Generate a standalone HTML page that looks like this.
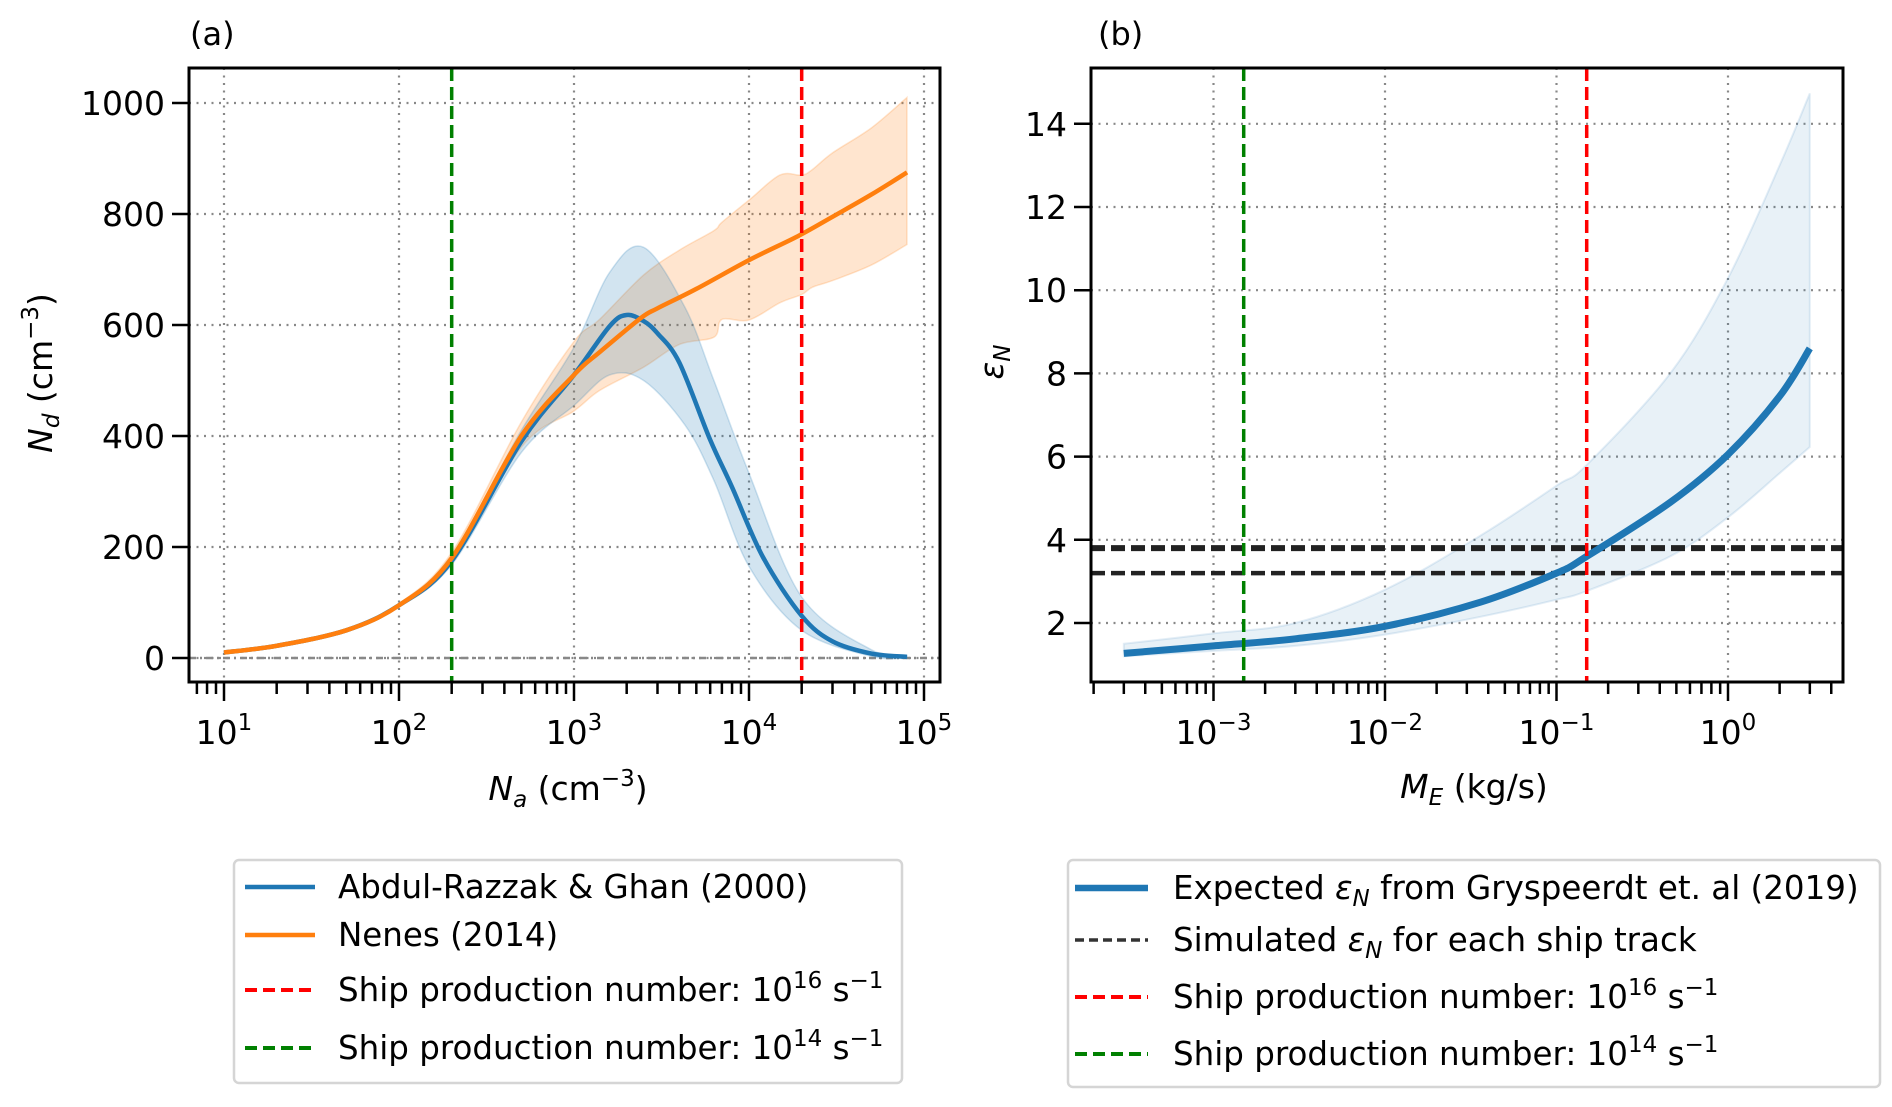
<!DOCTYPE html>
<html><head><meta charset="utf-8"><style>
html,body{margin:0;padding:0;background:#fff;}
svg{display:block;font-family:"DejaVu Sans","Liberation Sans",sans-serif;}
</style></head><body>
<svg id="fig" width="1892" height="1107" viewBox="0 0 1892 1107" xmlns="http://www.w3.org/2000/svg"></svg>
<script>
// ---- Panel (a) data ----
const aBlueX = [10,20,50,100,200,500,1000,1600,2000,2500,3000,4000,6000,8000,12000,20000,30000,50000,80000];
const aBlueY = [10,22,50,95,175,390,510,598,618,607,585,532,393,308,182,76,30,8,2];
const aBlueBandX = [10,20,50,100,200,500,1000,1600,2500,4300,6300,10000,20000,50000,80000];
const aBlueUp = [11,23,52,98,185,410,560,695,740,632,500,333,110,15,3];
const aBlueLo = [9,21,48,92,168,370,455,510,500,420,320,165,50,3,0];
const aOrX = [10,20,50,100,200,500,1000,1400,2400,3000,5000,10000,19000,30000,50000,80000];
const aOrY = [10,22,50,95,180,400,510,551,612,630,665,717,760,795,835,875];
const aOrBandX = [10,20,50,100,200,500,1000,1400,2500,4000,6300,7000,10000,15000,20000,23000,30000,50000,80000];
const aOrUp = [11,23,52,98,190,425,570,610,690,735,770,785,825,870,870,880,910,955,1010];
const aOrLo = [9,21,48,92,170,380,445,482,524,565,578,610,609,640,655,668,680,708,745];
const aVlines = [200,20000];
const aYTicks = [0,200,400,600,800,1000];
const aXTickExp = [1,2,3,4,5];
// ---- Panel (b) data ----
const bX = [0.0003,0.001,0.003,0.01,0.036,0.1,0.15,0.46,1,2,3];
const bY = [1.27,1.45,1.62,1.92,2.5,3.2,3.6,4.9,6.05,7.45,8.6];
const bUp = [1.5,1.75,2.0,2.8,4.1,5.3,5.8,8.0,10.29,13.0,14.73];
const bLo = [1.2,1.33,1.45,1.72,2.15,2.56,2.77,3.6,4.54,5.6,6.23];
const bHlines = [3.8,3.2];
const bVlines = [0.0015,0.15];
const bYTicks = [2,4,6,8,10,12,14];
const bXTickExp = [-3,-2,-1,0];

const NS="http://www.w3.org/2000/svg";
const svg=document.getElementById('fig');
function el(tag,attrs,parent){const e=document.createElementNS(NS,tag);for(const k in attrs)e.setAttribute(k,attrs[k]);(parent||svg).appendChild(e);return e;}

const A={left:189,right:940,top:68,bottom:682};
const axA=v=>224+175*Math.log10(v/10);
const ayA=v=>658-0.555*v;
const B={left:1091,right:1843,top:68,bottom:682};
const axB=v=>1728+171.5*Math.log10(v);
const ayB=v=>623-41.6*(v-2);

function smooth(pts,start){
  let d=(start||'M')+pts[0][0].toFixed(1)+','+pts[0][1].toFixed(1);
  for(let i=0;i<pts.length-1;i++){
    const p0=pts[i-1]||pts[i],p1=pts[i],p2=pts[i+1],p3=pts[i+2]||p2;
    const c1=[p1[0]+(p2[0]-p0[0])/6,p1[1]+(p2[1]-p0[1])/6];
    const c2=[p2[0]-(p3[0]-p1[0])/6,p2[1]-(p3[1]-p1[1])/6];
    d+=' C'+c1[0].toFixed(1)+','+c1[1].toFixed(1)+' '+c2[0].toFixed(1)+','+c2[1].toFixed(1)+' '+p2[0].toFixed(1)+','+p2[1].toFixed(1);
  }
  return d;
}
function path(xs,ys,fx,fy){return smooth(xs.map((x,i)=>[fx(x),fy(ys[i])]));}
function band(xs,up,lo,fx,fy){
  const u=xs.map((x,i)=>[fx(x),fy(up[i])]);
  const l=xs.map((x,i)=>[fx(x),fy(lo[i])]).reverse();
  return smooth(u)+' '+smooth(l,'L')+' Z';
}

function text(x,y,str,opt,parent){const t=el('text',Object.assign({x:x,y:y,'font-size':33,fill:'#000'},opt||{}),parent);t.innerHTML=str;return t;}

function drawAxes(P,ax,ay,yTicks,xExp,name){
  const g=el('g',{});
  
  
  const clip=el('clipPath',{id:'clip-'+name},g);
  el('rect',{x:P.left,y:P.top,width:P.right-P.left,height:P.bottom-P.top},clip);
  const grid=el('g',{stroke:'#888','stroke-width':2.2,'stroke-dasharray':'2 5.5'},g);
  
  
  yTicks.forEach(v=>{el('line',{x1:P.left,x2:P.right,y1:ay(v),y2:ay(v)},grid);});
  xExp.forEach(e=>{el('line',{x1:ax(Math.pow(10,e)),x2:ax(Math.pow(10,e)),y1:P.top,y2:P.bottom},grid);});
  const tk=el('g',{stroke:'#000','stroke-width':2.5},g);
  
  
  yTicks.forEach(v=>{
    el('line',{x1:P.left-17,x2:P.left,y1:ay(v),y2:ay(v)},tk);
    const t=text(P.left-24,ay(v)+12,String(v),{'text-anchor':'end','font-size':33},g);
    
    
  });
  const e0=Math.min(...xExp)-2,e1=Math.max(...xExp)+1;
  for(let e=e0;e<=e1;e++){for(let m=1;m<10;m++){const v=m*Math.pow(10,e);const x=ax(v);
    if(x<P.left-0.5||x>P.right+0.5)continue;
    el('line',{x1:x,x2:x,y1:P.bottom,y2:P.bottom+(m===1?19:12)},tk);}}
  xExp.forEach(e=>{
    const t=text(ax(Math.pow(10,e)),744,'10<tspan dy="-14" font-size="23">'+(e<0?'\u2212'+(-e):e)+'</tspan>',{'text-anchor':'middle','font-size':33},g);
    
    
  });
  return g;
}

// ---------- Panel a ----------
const gA=drawAxes(A,axA,ayA,aYTicks,aXTickExp,'panel-a');
const cA=el('g',{'clip-path':'url(#clip-panel-a)'},gA);
let e;
e=el('line',{x1:A.left,x2:A.right,y1:ayA(0),y2:ayA(0),stroke:'#888','stroke-width':2.5,'stroke-dasharray':'7 4 2 4'},cA);


e=el('path',{d:band(aOrBandX,aOrUp,aOrLo,axA,ayA),fill:'#ff7f0e','fill-opacity':0.2,stroke:'#ff7f0e','stroke-opacity':0.2,'stroke-width':1.5},cA);


e=el('path',{d:band(aBlueBandX,aBlueUp,aBlueLo,axA,ayA),fill:'#1f77b4','fill-opacity':0.2,stroke:'#1f77b4','stroke-opacity':0.2,'stroke-width':1.5},cA);


e=el('path',{d:path(aBlueX,aBlueY,axA,ayA),fill:'none',stroke:'#1f77b4','stroke-width':4.5,'stroke-linejoin':'round'},cA);


e=el('path',{d:path(aOrX,aOrY,axA,ayA),fill:'none',stroke:'#ff7f0e','stroke-width':4.5,'stroke-linejoin':'round'},cA);


const aCols=['#008000','#ff0000'];
aVlines.forEach((v,i)=>{const l=el('line',{x1:axA(v),x2:axA(v),y1:A.top,y2:A.bottom,stroke:aCols[i],'stroke-width':3.5,'stroke-dasharray':'13 6'},cA);
  
  });
e=el('rect',{x:A.left,y:A.top,width:A.right-A.left,height:A.bottom-A.top,fill:'none',stroke:'#000','stroke-width':3},gA);


e=text(190,45,'(a)',{'font-size':32});


e=text(0,0,'<tspan font-style="italic">N</tspan><tspan font-style="italic" font-size="23" dy="7">d</tspan><tspan dy="-7"> (cm</tspan><tspan font-size="23" dy="-14">\u22123</tspan><tspan dy="14">)</tspan>',{'text-anchor':'middle','font-size':33,transform:'translate(52,373) rotate(-90)'});


e=text(568,800,'<tspan font-style="italic">N</tspan><tspan font-style="italic" font-size="23" dy="7">a</tspan><tspan dy="-7"> (cm</tspan><tspan font-size="23" dy="-14">\u22123</tspan><tspan dy="14">)</tspan>',{'text-anchor':'middle','font-size':33});



// ---------- Panel b ----------
const gB=drawAxes(B,axB,ayB,bYTicks,bXTickExp,'panel-b');
const cB=el('g',{'clip-path':'url(#clip-panel-b)'},gB);
e=el('path',{d:band(bX,bUp,bLo,axB,ayB),fill:'#1f77b4','fill-opacity':0.1,stroke:'#1f77b4','stroke-opacity':0.12,'stroke-width':2},cB);


bHlines.forEach((v,i)=>{const l=el('line',{x1:B.left,x2:B.right,y1:ayB(v),y2:ayB(v),stroke:'#222','stroke-width':i?4.5:6,'stroke-dasharray':'14 6'},cB);
  
  });
e=el('path',{d:path(bX,bY,axB,ayB),fill:'none',stroke:'#1f77b4','stroke-width':7,'stroke-linejoin':'round'},cB);


bVlines.forEach((v,i)=>{const l=el('line',{x1:axB(v),x2:axB(v),y1:B.top,y2:B.bottom,stroke:aCols[i],'stroke-width':3.5,'stroke-dasharray':'13 6'},cB);
  
  });
e=el('rect',{x:B.left,y:B.top,width:B.right-B.left,height:B.bottom-B.top,fill:'none',stroke:'#000','stroke-width':3},gB);


e=text(1098,45,'(b)',{'font-size':32});


e=text(0,0,'<tspan font-style="italic">ε</tspan><tspan font-style="italic" font-size="23" dy="7">N</tspan>',{'text-anchor':'middle','font-size':33,transform:'translate(1003,362) rotate(-90)'});


e=text(1474,798,'<tspan font-style="italic">M</tspan><tspan font-style="italic" font-size="23" dy="7">E</tspan><tspan dy="-7"> (kg/s)</tspan>',{'text-anchor':'middle','font-size':33});



// ---------- Legends ----------
function legend(x,y,w,h,items,name){
  const g=el('g',{});
  
  
  el('rect',{x:x,y:y,width:w,height:h,rx:5,fill:'#fff',stroke:'#d5d5d5','stroke-width':2.5},g);
  items.forEach(it=>{
    const ge=el('g',{},g);
    
    
    el('line',Object.assign({x1:it.x1,x2:it.x2,y1:it.y,y2:it.y,stroke:it.c,'stroke-width':it.w},it.dash?{'stroke-dasharray':it.dash}:{}),ge);
    text(it.tx,it.y+11,it.t,{'font-size':32.5},ge);
  });
}
const sup=(a)=>'10<tspan dy="-13" font-size="23">'+a+'</tspan><tspan dy="13"> s</tspan><tspan dy="-13" font-size="23">\u22121</tspan>';
legend(234,860,668,223,[
  {x1:245,x2:315,y:887,c:'#1f77b4',w:4.5,tx:338,t:'Abdul-Razzak &amp; Ghan (2000)'},
  {x1:245,x2:315,y:935,c:'#ff7f0e',w:4.5,tx:338,t:'Nenes (2014)'},
  {x1:245,x2:315,y:990,c:'#ff0000',w:4,dash:'12 6',tx:338,t:'Ship production number: '+sup('16')},
  {x1:245,x2:315,y:1048,c:'#008000',w:4,dash:'12 6',tx:338,t:'Ship production number: '+sup('14')}
],'legend-a');
legend(1068,860,812,227,[
  {x1:1075,x2:1148,y:888,c:'#1f77b4',w:6.5,tx:1173,t:'Expected <tspan font-style="italic">ε</tspan><tspan font-style="italic" font-size="23" dy="7">N</tspan><tspan dy="-7"> from Gryspeerdt et. al (2019)</tspan>'},
  {x1:1075,x2:1148,y:940,c:'#333',w:3.5,dash:'9 5',tx:1173,t:'Simulated <tspan font-style="italic">ε</tspan><tspan font-style="italic" font-size="23" dy="7">N</tspan><tspan dy="-7"> for each ship track</tspan>'},
  {x1:1075,x2:1148,y:997,c:'#ff0000',w:4,dash:'12 6',tx:1173,t:'Ship production number: '+sup('16')},
  {x1:1075,x2:1148,y:1054,c:'#008000',w:4,dash:'12 6',tx:1173,t:'Ship production number: '+sup('14')}
],'legend-b');
</script>
</body></html>
